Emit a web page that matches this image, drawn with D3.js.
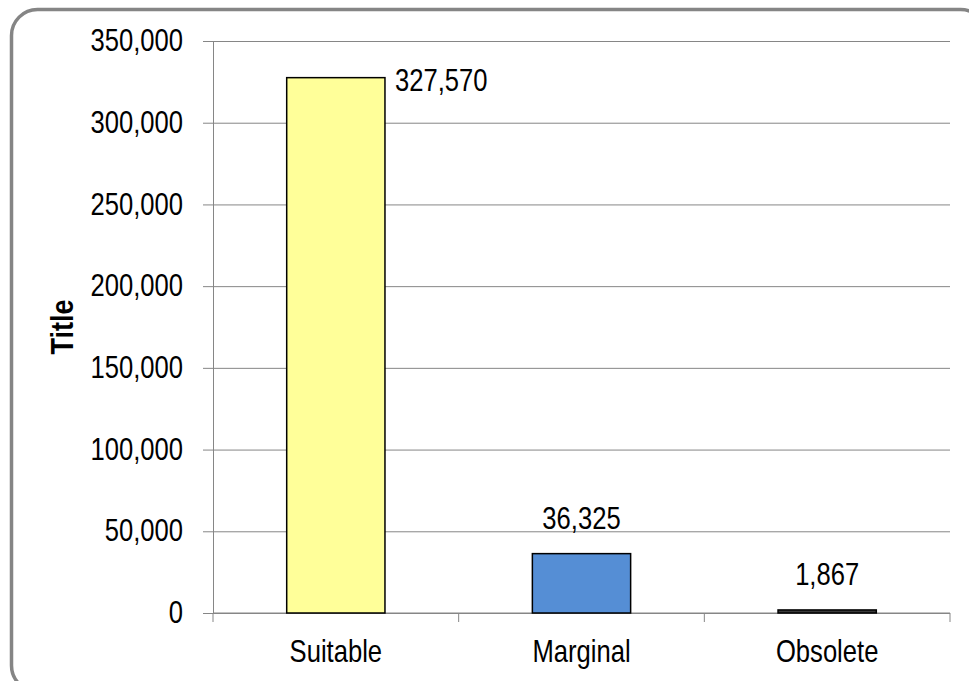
<!DOCTYPE html>
<html>
<head>
<meta charset="utf-8">
<script src="https://cdn.jsdelivr.net/npm/d3@7"></script>
<style>
  html, body { margin: 0; padding: 0; background: #fff; overflow: hidden; }
  text { font-family: "Liberation Sans", Arial, sans-serif; fill: #000; }
</style>
</head>
<body>
<div id="chart"></div>
<script>
// data
const categories = ['Suitable', 'Marginal', 'Obsolete'];
const values = [327570, 36325, 1867];
const barColors = ['#FFFF99', '#558ED5', '#3a3a3a'];
const yTicks = [0, 50000, 100000, 150000, 200000, 250000, 300000, 350000];
const axisTitle = 'Title';

const width = 969;
const height = 681;
const margin = { top: 41, right: 19, bottom: 68, left: 213 };
const sx = 0.8; // tekst is wat smaller in het origineel

const svg = d3.select('#chart')
  .append('svg')
  .attr('width', width)
  .attr('height', height);

// afgeronde rand rond de grafiek
svg.append('rect')
  .attr('x', 11.5)
  .attr('y', 9.5)
  .attr('width', 975)
  .attr('height', 682)
  .attr('rx', 26)
  .attr('fill', 'none')
  .attr('stroke', '#858585')
  .attr('stroke-width', 3.5);

const x = d3.scaleBand()
  .domain(categories)
  .range([margin.left, width - margin.right])
  .paddingInner(0.6)
  .paddingOuter(0.3);

const y = d3.scaleLinear()
  .domain([0, 350000])
  .range([height - margin.bottom, margin.top]);

const fmt = d3.format(',');

// y-as met gridlijnen
svg.append('g')
  .attr('transform', `translate(${margin.left},0)`)
  .call(d3.axisLeft(y).tickValues(yTicks).tickFormat(fmt)
    .tickSize(-(width - margin.right - margin.left)).tickSizeOuter(0))
  .call(g => g.select('.domain').attr('stroke', '#868686'))
  .call(g => g.selectAll('.tick line')
    .attr('stroke', '#868686')
    .attr('x1', -10))
  .call(g => g.selectAll('.tick text')
    .attr('x', -30 / sx)
    .attr('dy', '0.3em')
    .attr('transform', `scale(${sx},1)`)
    .style('font-size', '32px')
    .style('font-family', '"Liberation Sans", Arial, sans-serif'));

// x-as
const xEdges = [margin.left, ...categories.map(c => x(c) + x.bandwidth() / 2 + x.step() / 2)];
const xg = svg.append('g')
  .attr('transform', `translate(0,${y(0)})`);
xg.append('line')
  .attr('x1', margin.left).attr('x2', width - margin.right)
  .attr('stroke', '#868686');
xg.selectAll('line.tk')
  .data(xEdges)
  .join('line')
  .attr('class', 'tk')
  .attr('x1', d => d).attr('x2', d => d)
  .attr('y1', 0).attr('y2', 9)
  .attr('stroke', '#868686');
xg.selectAll('text')
  .data(categories)
  .join('text')
  .attr('text-anchor', 'middle')
  .attr('transform', d => `translate(${x(d) + x.bandwidth() / 2},49) scale(${sx},1)`)
  .style('font-size', '32px')
  .text(d => d);

// staven
svg.append('g')
  .selectAll('rect')
  .data(values)
  .join('rect')
  .attr('x', (d, i) => x(categories[i]))
  .attr('y', d => y(d))
  .attr('width', x.bandwidth())
  .attr('height', d => y(0) - y(d))
  .attr('fill', (d, i) => barColors[i])
  .attr('stroke', '#000')
  .attr('stroke-width', 1.5);

// labels: de hoogste staaf krijgt zijn label ernaast
svg.append('g')
  .selectAll('text')
  .data(values)
  .join('text')
  .attr('text-anchor', (d, i) => i === 0 ? 'start' : 'middle')
  .attr('transform', (d, i) => {
    const cx = i === 0 ? x(categories[i]) + x.bandwidth() + 10 : x(categories[i]) + x.bandwidth() / 2;
    const cy = i === 0 ? y(d) + 13 : y(d) - 25;
    return `translate(${cx},${cy}) scale(${sx},1)`;
  })
  .style('font-size', '32px')
  .text(d => fmt(d));

// as-titel
svg.append('text')
  .attr('transform', `translate(73,${(margin.top + y(0)) / 2}) rotate(-90) scale(1,1.15)`)
  .attr('text-anchor', 'middle')
  .style('font-size', '27px')
  .style('font-weight', 'bold')
  .text(axisTitle);
</script>
</body>
</html>
